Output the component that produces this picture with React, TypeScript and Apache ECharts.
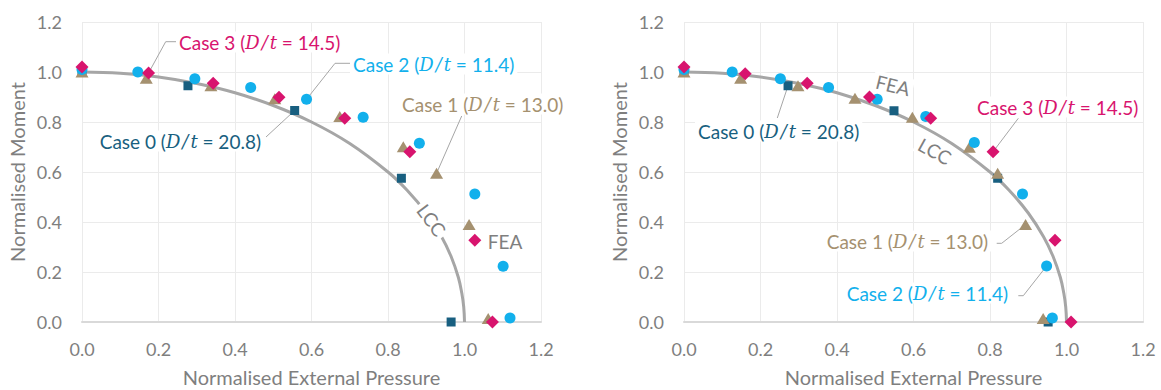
import React, { useEffect, useRef } from "react";
import * as echarts from "echarts";

// ---- data ----
const lccCurve: number[][] = [
  [0, 1.0], [0.1, 0.995], [0.2, 0.98], [0.3, 0.954], [0.4, 0.917], [0.5, 0.866],
  [0.6, 0.8], [0.7, 0.714], [0.8, 0.6], [0.85, 0.527], [0.9, 0.436], [0.94, 0.341],
  [0.965, 0.262], [0.984, 0.178], [0.993, 0.115], [0.998, 0.06], [1.0, 0.0],
];

const case0Left: number[][] = [[0, 1.0], [0.277, 0.945], [0.556, 0.846], [0.835, 0.575], [0.965, 0.0]];
const case1Left: number[][] = [[0, 1.0], [0.168, 0.975], [0.337, 0.945], [0.504, 0.893], [0.674, 0.822], [0.84, 0.701], [0.927, 0.595], [1.012, 0.39], [1.062, 0.014]];
const case2Left: number[][] = [[0, 1.01], [0.146, 1.0], [0.295, 0.973], [0.441, 0.938], [0.587, 0.891], [0.735, 0.819], [0.882, 0.715], [1.027, 0.512], [1.101, 0.223], [1.119, 0.016]];
const case3Left: number[][] = [[0, 1.02], [0.174, 0.996], [0.343, 0.955], [0.515, 0.899], [0.687, 0.815], [0.857, 0.681], [1.027, 0.327], [1.073, 0.0]];

const case0Right: number[][] = [[0, 1.0], [0.272, 0.945], [0.549, 0.845], [0.82, 0.575], [0.952, 0.0]];
const case1Right: number[][] = [[0, 1.0], [0.148, 0.975], [0.298, 0.945], [0.447, 0.895], [0.597, 0.819], [0.746, 0.699], [0.82, 0.595], [0.893, 0.39], [0.939, 0.014]];
const case2Right: number[][] = [[0, 1.01], [0.126, 1.0], [0.252, 0.973], [0.378, 0.938], [0.505, 0.891], [0.632, 0.822], [0.759, 0.718], [0.885, 0.512], [0.948, 0.224], [0.963, 0.016]];
const case3Right: number[][] = [[0, 1.02], [0.16, 0.993], [0.322, 0.955], [0.485, 0.9], [0.645, 0.815], [0.808, 0.681], [0.97, 0.327], [1.012, 0.0]];

const caseNames = ["Case 0", "Case 1", "Case 2", "Case 3"];
const caseRatios = ["20.8", "13.0", "11.4", "14.5"];

// ---- styles ----
const COLORS = ["#185f80", "#a59170", "#12b0ec", "#d8146e"];
const GRAY = "#7f7f7f";
const FONT = "Lato";
const ITALIC_FONT = "DejaVu Serif";
const LABEL_SIZE = 19;

export default function App() {
  const ref = useRef<HTMLDivElement>(null);

  useEffect(() => {
    const chart = echarts.init(ref.current!, null, { renderer: "svg" });

    const grids = [
      { left: 82, top: 22, width: 459, height: 300, containLabel: false, outerBoundsMode: "none" },
      { left: 684, top: 22, width: 459, height: 300, containLabel: false, outerBoundsMode: "none" },
    ];

    const xAxis = (g: number) => ({
      type: "value",
      gridIndex: g,
      min: 0,
      max: 1.2,
      interval: 0.2,
      name: "Normalised External Pressure",
      nameLocation: "middle",
      nameGap: 45,
      nameTextStyle: { color: GRAY, fontSize: 20, fontFamily: FONT },
      axisLine: { show: true, onZero: false, lineStyle: { color: "#d9d9d9", width: 2 } },
      axisTick: { show: false },
      axisLabel: { color: GRAY, fontSize: 18, fontFamily: FONT, margin: 18, formatter: (v: number) => v.toFixed(1) },
      splitLine: { show: true, lineStyle: { color: "#ebebeb", width: 1 } },
    });
    const yAxis = (g: number) => ({
      type: "value",
      gridIndex: g,
      min: 0,
      max: 1.2,
      interval: 0.2,
      name: "Normalised Moment",
      nameLocation: "middle",
      nameGap: 55,
      nameTextStyle: { color: GRAY, fontSize: 20, fontFamily: FONT },
      axisLine: { show: false },
      axisTick: { show: false },
      axisLabel: { color: GRAY, fontSize: 18, fontFamily: FONT, margin: 20, formatter: (v: number) => v.toFixed(1) },
      splitLine: { show: true, lineStyle: { color: "#ebebeb", width: 1 } },
    });

    const symbols: any[] = [
      { symbol: "rect", symbolSize: 9 },
      { symbol: "triangle", symbolSize: [13, 11] },
      { symbol: "circle", symbolSize: 11 },
      { symbol: "diamond", symbolSize: 13 },
    ];
    const leftSets = [case0Left, case1Left, case2Left, case3Left];
    const rightSets = [case0Right, case1Right, case2Right, case3Right];

    const series: any[] = [];
    [leftSets, rightSets].forEach((sets, g) => {
      series.push({
        type: "line",
        name: "LCC",
        xAxisIndex: g,
        yAxisIndex: g,
        data: lccCurve,
        smooth: 0.4,
        showSymbol: false,
        lineStyle: { color: "#a6a6a6", width: 3 },
        z: 1,
      });
      sets.forEach((d, i) => {
        series.push({
          type: "scatter",
          name: caseNames[i],
          xAxisIndex: g,
          yAxisIndex: g,
          data: d,
          ...symbols[i],
          itemStyle: { color: COLORS[i], opacity: 1 },
          z: 3 + i,
        });
      });
    });

    chart.setOption({
      animation: false,
      backgroundColor: "#fff",
      grid: grids,
      xAxis: [xAxis(0), xAxis(1)],
      yAxis: [yAxis(0), yAxis(1)],
      series,
    });

    const px = (g: number, p: number[]) => chart.convertToPixel({ gridIndex: g } as any, p) as number[];

    const labelText = (i: number) => `{a|${caseNames[i]} (}{i|D}{s|/}{i|t}{a| = ${caseRatios[i]})}`;
    const rich = (i: number) => ({
      a: { fill: COLORS[i], fontSize: LABEL_SIZE, fontFamily: FONT },
      i: { fill: COLORS[i], fontSize: LABEL_SIZE - 1, fontFamily: ITALIC_FONT, fontStyle: "italic" },
      s: { fill: COLORS[i], fontSize: LABEL_SIZE - 1, fontFamily: ITALIC_FONT, fontStyle: "italic", padding: [0, 2] },
    });

    const label = (i: number, x: number, y: number, align: string) => ({
      type: "text",
      x,
      y,
      z: 50,
      style: {
        text: labelText(i),
        rich: rich(i),
        fill: COLORS[i],
        align,
        verticalAlign: "middle",
        backgroundColor: "#fff",
        padding: [1, 3],
      },
    });
    const leader = (pts: number[][]) => ({
      type: "polyline",
      z: 0,
      shape: { points: pts },
      style: { stroke: "#a6a6a6", lineWidth: 1, fill: null },
    });
    const plain = (text: string, x: number, y: number, rot: number) => ({
      type: "text",
      x,
      y,
      rotation: rot,
      z: 40,
      style: {
        text,
        fill: GRAY,
        fontSize: LABEL_SIZE,
        fontFamily: FONT,
        align: "center",
        verticalAlign: "middle",
        backgroundColor: "#fff",
        padding: [1, 3],
      },
    });

    const graphics: any[] = [
      // left panel
      leader([px(0, case3Left[1]), [165.7, 41.7], [176, 41.7]]),
      label(3, 176, 42, "left"),
      leader([px(0, case2Left[4]), [335, 63.3], [350, 63.3]]),
      label(2, 350, 64, "left"),
      leader([[461.7, 116], px(0, case1Left[6])]),
      label(1, 399, 104, "left"),
      leader([[266, 137], px(0, case0Left[2])]),
      label(0, 264, 141, "right"),
      plain("LCC", 431.7, 220, -0.93),
      plain("FEA", 505, 241, 0),
      // right panel
      plain("FEA", 893, 85, -0.24),
      plain("LCC", 935, 151, -0.5),
      leader([[1018.3, 118.3], px(1, case3Right[5])]),
      label(3, 974, 107, "left"),
      leader([[777.3, 118], px(1, case0Right[1])]),
      label(0, 695, 131, "left"),
      leader([[996.7, 243.3], [1001.7, 243.3], px(1, case1Right[7])]),
      label(1, 991, 241, "right"),
      leader([[1018.3, 295.7], [1023.3, 295.7], px(1, case2Right[8])]),
      label(2, 1011, 293, "right"),
    ];

    chart.setOption({ graphic: { elements: graphics } });

    return () => chart.dispose();
  }, []);

  return (
    <div
      ref={ref}
      style={{ position: "absolute", left: 0, top: 0, width: 1161, height: 390, background: "#fff" }}
    />
  );
}
